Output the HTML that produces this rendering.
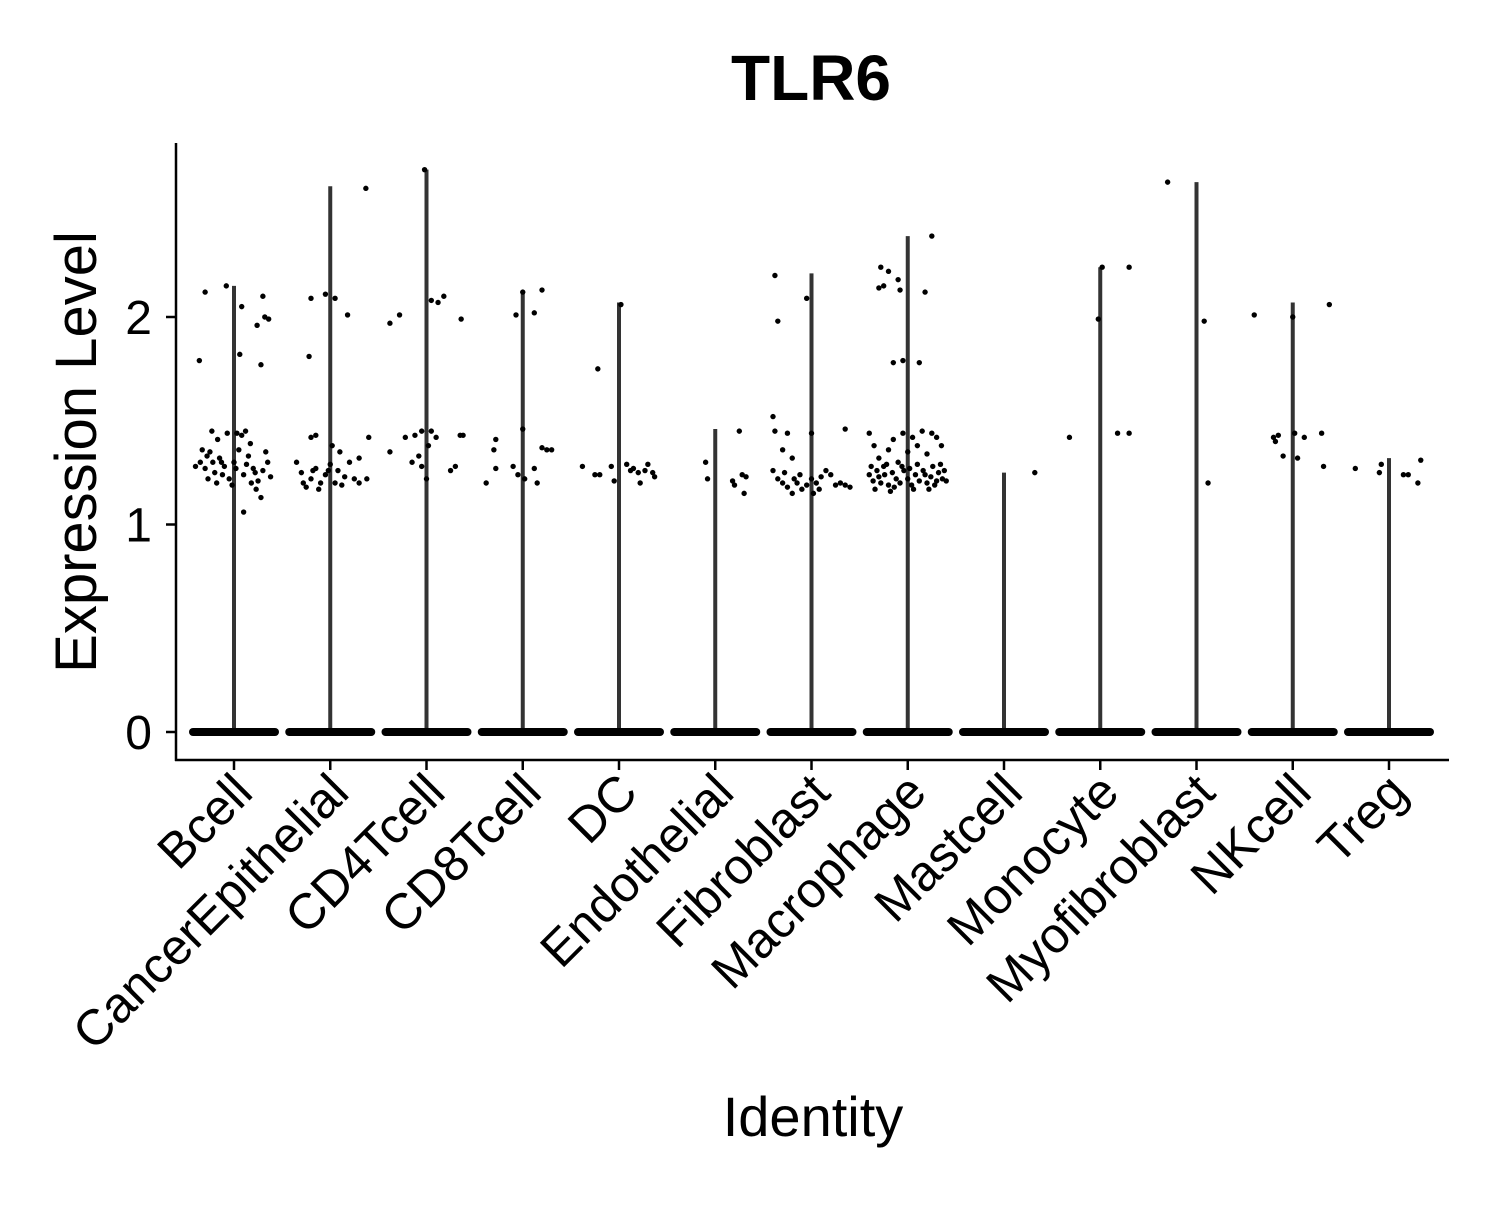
<!DOCTYPE html>
<html><head><meta charset="utf-8"><style>
body{margin:0;background:#fff}
svg text{font-family:"Liberation Sans",sans-serif;fill:#000}
</style></head><body>
<svg id="chart" width="1500" height="1200" viewBox="0 0 1500 1200">
<text x="811" y="100" font-size="64" font-weight="bold" text-anchor="middle">TLR6</text>
<g id="plot"></g>
<text x="813" y="1136" font-size="56" text-anchor="middle">Identity</text>
<text transform="translate(96,452) rotate(-90)" font-size="58" text-anchor="middle">Expression Level</text>
</svg>
<script>
const categories=["Bcell","CancerEpithelial","CD4Tcell","CD8Tcell","DC","Endothelial","Fibroblast","Macrophage","Mastcell","Monocyte","Myofibroblast","NKcell","Treg"];
const maxValues=[2.15,2.63,2.71,2.12,2.07,1.46,2.21,2.39,1.25,2.24,2.65,2.07,1.32];
const yTicks=[0,1,2];
// jittered points: [category index, jitter offset (category units), expression value]
const points=[
[0,-0.3,2.12],[0,-0.08,2.15],[0,0.08,2.05],[0,0.3,2.1],[0,0.32,2.0],[0,0.36,1.99],[0,0.24,1.96],[0,-0.36,1.79],[0,0.06,1.82],[0,0.28,1.77],[0,0.1,1.06],
[0,-0.35,1.3],[0,-0.3,1.27],[0,-0.25,1.35],[0,-0.2,1.25],[0,-0.15,1.32],[0,-0.1,1.28],[0,-0.05,1.22],[0,0.0,1.3],[0,0.05,1.36],[0,0.1,1.24],[0,0.15,1.33],[0,0.2,1.27],[0,0.25,1.21],[0,0.3,1.26],[0,0.35,1.3],
[0,-0.33,1.36],[0,-0.27,1.22],[0,-0.22,1.3],[0,-0.17,1.41],[0,-0.12,1.24],[0,-0.07,1.44],[0,-0.02,1.19],[0,0.03,1.44],[0,0.08,1.43],[0,0.13,1.29],[0,0.18,1.2],[0,0.23,1.17],[0,0.28,1.13],[0,0.33,1.35],[0,-0.4,1.28],[0,0.38,1.23],
[0,-0.28,1.33],[0,-0.13,1.3],[0,0.02,1.27],[0,0.17,1.39],[0,0.12,1.45],[0,-0.18,1.2],[0,0.22,1.25],[0,-0.23,1.45],
[1,-0.2,2.09],[1,-0.05,2.11],[1,0.05,2.09],[1,0.18,2.01],[1,-0.22,1.81],[1,0.37,2.62],
[1,-0.3,1.25],[1,-0.25,1.18],[1,-0.2,1.22],[1,-0.15,1.27],[1,-0.1,1.2],[1,-0.05,1.24],[1,0.0,1.29],[1,0.05,1.2],[1,0.1,1.35],[1,0.15,1.23],[1,0.2,1.3],[1,0.25,1.22],[1,0.3,1.2],[1,0.38,1.22],
[1,-0.28,1.2],[1,-0.18,1.26],[1,-0.12,1.17],[1,-0.02,1.26],[1,0.08,1.26],[1,0.12,1.19],[1,-0.2,1.42],[1,-0.15,1.43],[1,0.02,1.38],[1,0.4,1.42],[1,0.3,1.32],[1,-0.35,1.3],
[2,-0.38,1.97],[2,-0.28,2.01],[2,0.05,2.08],[2,0.12,2.07],[2,0.18,2.1],[2,0.36,1.99],[2,-0.02,2.71],
[2,-0.38,1.35],[2,-0.22,1.42],[2,-0.12,1.43],[2,-0.05,1.45],[2,0.05,1.45],[2,0.1,1.42],[2,0.35,1.43],[2,0.38,1.43],[2,-0.15,1.3],[2,-0.05,1.28],[2,0.0,1.22],[2,0.25,1.26],[2,0.3,1.28],[2,0.02,1.38],[2,-0.08,1.33],
[3,0.0,2.12],[3,-0.07,2.01],[3,0.12,2.02],[3,0.2,2.13],[3,-0.28,1.41],[3,-0.3,1.36],[3,0.0,1.46],[3,-0.38,1.2],[3,-0.28,1.27],[3,-0.05,1.24],[3,0.02,1.22],[3,0.12,1.27],[3,0.15,1.2],[3,0.2,1.37],[3,0.25,1.36],[3,0.3,1.36],[3,-0.1,1.28],
[4,0.02,2.06],[4,-0.22,1.75],[4,-0.38,1.28],[4,-0.25,1.24],[4,-0.2,1.24],[4,-0.08,1.28],[4,-0.05,1.21],[4,0.08,1.29],[4,0.12,1.26],[4,0.15,1.27],[4,0.2,1.25],[4,0.22,1.2],[4,0.3,1.29],[4,0.35,1.25],[4,0.37,1.23],[4,0.27,1.26],
[5,-0.1,1.3],[5,-0.08,1.22],[5,0.25,1.45],[5,0.18,1.21],[5,0.2,1.19],[5,0.28,1.24],[5,0.3,1.15],[5,0.32,1.23],
[6,-0.38,2.2],[6,-0.05,2.09],[6,-0.35,1.98],[6,-0.4,1.52],[6,-0.38,1.45],[6,-0.25,1.44],[6,0.0,1.44],[6,0.35,1.46],[6,-0.3,1.36],[6,-0.2,1.32],
[6,-0.4,1.26],[6,-0.35,1.22],[6,-0.3,1.2],[6,-0.25,1.18],[6,-0.2,1.15],[6,-0.15,1.2],[6,-0.1,1.17],[6,-0.05,1.19],[6,0.0,1.22],[6,0.05,1.2],[6,0.1,1.23],[6,0.15,1.26],[6,0.2,1.24],[6,0.25,1.19],[6,0.3,1.2],[6,0.35,1.19],[6,0.4,1.18],[6,-0.28,1.25],[6,-0.12,1.24],[6,0.02,1.15],[6,-0.18,1.22],[6,0.08,1.17],
[7,-0.3,2.14],[7,-0.28,2.24],[7,-0.2,2.22],[7,-0.1,2.18],[7,-0.08,2.13],[7,0.18,2.12],[7,0.25,2.39],[7,-0.15,1.78],[7,-0.05,1.79],[7,0.12,1.78],[7,-0.25,2.15],
[7,-0.4,1.44],[7,-0.35,1.38],[7,-0.3,1.32],[7,-0.25,1.28],[7,-0.2,1.36],[7,-0.15,1.41],[7,-0.1,1.3],[7,-0.05,1.44],[7,0.0,1.35],[7,0.05,1.42],[7,0.1,1.38],[7,0.15,1.45],[7,0.2,1.34],[7,0.25,1.44],[7,0.3,1.42],[7,0.35,1.38],
[7,-0.4,1.24],[7,-0.36,1.21],[7,-0.32,1.26],[7,-0.28,1.2],[7,-0.24,1.24],[7,-0.2,1.19],[7,-0.16,1.25],[7,-0.12,1.22],[7,-0.08,1.2],[7,-0.04,1.26],[7,0.0,1.22],[7,0.04,1.19],[7,0.08,1.24],[7,0.12,1.21],[7,0.16,1.26],[7,0.2,1.2],[7,0.24,1.23],[7,0.28,1.19],[7,0.32,1.25],[7,0.36,1.22],[7,0.4,1.21],
[7,-0.38,1.28],[7,-0.3,1.23],[7,-0.22,1.29],[7,-0.14,1.18],[7,-0.06,1.28],[7,0.02,1.27],[7,0.1,1.29],[7,0.18,1.24],[7,0.26,1.28],[7,0.34,1.29],[7,0.38,1.26],[7,-0.34,1.17],[7,-0.18,1.16],[7,0.06,1.17],[7,0.22,1.17],[7,0.3,1.21],
[8,0.32,1.25],
[9,-0.32,1.42],[9,-0.02,1.99],[9,0.02,2.24],[9,0.3,2.24],[9,0.18,1.44],[9,0.3,1.44],
[10,-0.3,2.65],[10,0.08,1.98],[10,0.12,1.2],
[11,-0.4,2.01],[11,-0.2,1.42],[11,-0.15,1.43],[11,-0.18,1.4],[11,-0.1,1.33],[11,0.02,1.44],[11,0.05,1.32],[11,0.12,1.42],[11,0.3,1.44],[11,0.32,1.28],[11,0.38,2.06],[11,0.0,2.0],
[12,-0.35,1.27],[12,-0.08,1.29],[12,-0.1,1.25],[12,0.15,1.24],[12,0.2,1.24],[12,0.3,1.2],[12,0.33,1.31]
];
const NS="http://www.w3.org/2000/svg";
const X0=234,DX=96.25,Y0=732,PY=207.5;
function xs(i){return X0+i*DX;}
function ys(v){return Y0-v*PY;}
const g=document.getElementById("plot");
function mk(t,a){const e=document.createElementNS(NS,t);for(const k in a)e.setAttribute(k,a[k]);g.appendChild(e);return e;}
categories.forEach((c,i)=>{
  const x=xs(i);
  const ln=mk("line",{x1:x,x2:x,y1:ys(0),y2:ys(maxValues[i]),stroke:"#333","stroke-width":4});
  
  
  const el=mk("rect",{x:x-45,y:ys(0)-4,width:90,height:8,rx:4,fill:"#000"});
  
  
  const tk=mk("line",{x1:x,x2:x,y1:760,y2:770,stroke:"#000","stroke-width":2.5});
  
  
  const t=mk("text",{transform:`translate(${x+21},${795}) rotate(-45)`,"font-size":50,"text-anchor":"end"});
  t.textContent=c;
  
  
});
points.forEach(p=>{
  const d=mk("circle",{cx:xs(p[0])+p[1]*DX,cy:ys(p[2]),r:2.7,fill:"#000"});
  
  
});
yTicks.forEach(v=>{
  const tk=mk("line",{x1:166,x2:176,y1:ys(v),y2:ys(v),stroke:"#000","stroke-width":2.5});
  
  
  const t=mk("text",{x:152,y:ys(v)+17,"font-size":48,"text-anchor":"end"});
  t.textContent=v;
  
  
});
const ya=mk("line",{x1:176,x2:176,y1:143,y2:761,stroke:"#000","stroke-width":2.5});


const xa=mk("line",{x1:175,x2:1449,y1:760,y2:760,stroke:"#000","stroke-width":2.5});


</script>
</body></html>
